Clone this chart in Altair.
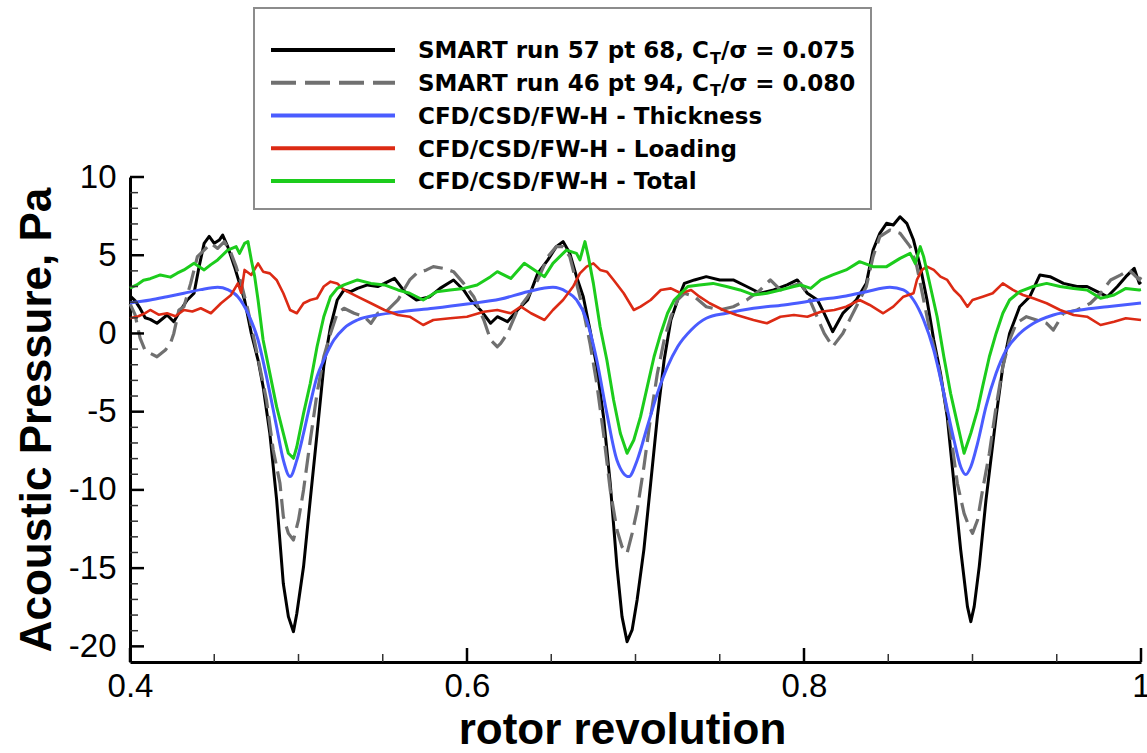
import altair as alt
import pandas as pd

# ---------------------------------------------------------------------------
# Acoustic pressure time histories over part of one rotor revolution
# (rotor revolution, acoustic pressure in Pa)
# ---------------------------------------------------------------------------

SMART_RUN57 = [
    (0.400, 2.4), (0.403, 2.1), (0.406, 1.6), (0.409, 1.0), (0.412, 0.9), (0.416, 0.65),
    (0.422, 1.18), (0.426, 0.75), (0.430, 1.5), (0.434, 2.14), (0.438, 2.57), (0.441, 4.27),
    (0.444, 5.76), (0.447, 6.2), (0.450, 5.76), (0.453, 5.97), (0.455, 6.29), (0.458, 5.55),
    (0.462, 4.27), (0.465, 3.2), (0.468, 2.14), (0.472, 0.0), (0.476, -1.7), (0.479, -3.4),
    (0.483, -6.4), (0.487, -10.6), (0.491, -16.0), (0.494, -18.1), (0.497, -19.06),
    (0.499, -17.9), (0.503, -14.9), (0.507, -10.6), (0.511, -6.4), (0.515, -2.1),
    (0.519, 0.43), (0.523, 2.14), (0.527, 2.78), (0.531, 2.67), (0.535, 2.88), (0.541, 3.1),
    (0.547, 3.0), (0.551, 3.2), (0.557, 3.52), (0.563, 2.67), (0.570, 2.14), (0.578, 2.35),
    (0.584, 2.88), (0.592, 3.42), (0.598, 2.78), (0.602, 2.14), (0.608, 1.5), (0.614, 0.65),
    (0.618, 1.07), (0.624, 0.75), (0.630, 1.5), (0.636, 2.14), (0.642, 3.84), (0.648, 4.7),
    (0.653, 5.55), (0.657, 5.87), (0.661, 5.12), (0.665, 3.63), (0.669, 2.35), (0.673, 0.22),
    (0.677, -2.12), (0.681, -5.32), (0.685, -9.58), (0.689, -14.9), (0.692, -18.1),
    (0.695, -19.7), (0.698, -18.95), (0.701, -17.0), (0.705, -13.8), (0.709, -9.58),
    (0.713, -5.32), (0.717, -1.7), (0.721, 0.86), (0.725, 2.14), (0.729, 3.2), (0.735, 3.42),
    (0.742, 3.63), (0.750, 3.42), (0.758, 3.42), (0.766, 3.0), (0.774, 2.57), (0.782, 2.78),
    (0.790, 3.1), (0.796, 3.42), (0.802, 2.57), (0.808, 2.14), (0.812, 1.28), (0.817, 0.11),
    (0.823, 1.28), (0.831, 2.14), (0.837, 3.2), (0.841, 5.33), (0.845, 6.4), (0.849, 7.04),
    (0.853, 6.93), (0.857, 7.46), (0.861, 7.04), (0.865, 5.97), (0.869, 4.27), (0.873, 2.14),
    (0.877, -0.42), (0.881, -2.55), (0.885, -5.32), (0.889, -9.58), (0.893, -13.84),
    (0.897, -17.46), (0.899, -18.42), (0.901, -17.46), (0.904, -14.9), (0.908, -10.65),
    (0.914, -5.32), (0.918, -2.12), (0.922, 0.0), (0.928, 1.71), (0.934, 2.35), (0.940, 3.74),
    (0.946, 3.63), (0.954, 3.2), (0.962, 3.0), (0.968, 3.0), (0.974, 2.67), (0.980, 2.35),
    (0.986, 3.0), (0.991, 3.63), (0.996, 4.16), (0.999, 3.2), (1.000, 3.3),
]

SMART_RUN46 = [
    (0.400, 1.9), (0.403, 1.2), (0.406, -0.3), (0.409, -1.1), (0.412, -1.27), (0.416, -1.49),
    (0.421, -1.06), (0.424, -0.63), (0.426, 0.0), (0.429, 1.5), (0.432, 1.71), (0.436, 3.2),
    (0.440, 4.91), (0.444, 5.33), (0.448, 5.76), (0.452, 5.44), (0.456, 5.87), (0.460, 5.12),
    (0.463, 4.27), (0.466, 3.2), (0.470, 1.5), (0.475, -1.06), (0.481, -4.25), (0.485, -7.45),
    (0.489, -9.58), (0.491, -11.71), (0.494, -12.78), (0.497, -13.2), (0.500, -11.92),
    (0.503, -10.0), (0.507, -6.81), (0.511, -3.83), (0.515, -1.49), (0.519, 0.0),
    (0.523, 1.29), (0.527, 1.61), (0.533, 1.29), (0.539, 1.07), (0.543, 0.65), (0.547, 1.29),
    (0.553, 1.5), (0.559, 2.14), (0.566, 3.42), (0.570, 3.84), (0.576, 4.06), (0.580, 4.27),
    (0.586, 4.16), (0.592, 3.95), (0.598, 3.2), (0.604, 2.35), (0.610, 0.86), (0.614, -0.42),
    (0.618, -0.85), (0.620, -0.63), (0.624, 0.0), (0.630, 1.5), (0.636, 2.35), (0.642, 3.42),
    (0.648, 4.91), (0.653, 5.55), (0.657, 5.55), (0.661, 4.91), (0.665, 3.2), (0.669, 1.5),
    (0.673, -0.63), (0.677, -3.19), (0.681, -6.38), (0.685, -10.0), (0.689, -12.56),
    (0.692, -13.63), (0.695, -14.05), (0.698, -12.78), (0.701, -11.28), (0.705, -8.52),
    (0.709, -5.32), (0.713, -2.55), (0.717, -0.42), (0.721, 1.07), (0.725, 2.14),
    (0.729, 2.57), (0.735, 2.35), (0.742, 1.71), (0.750, 1.5), (0.758, 1.71), (0.766, 2.14),
    (0.774, 2.78), (0.780, 3.42), (0.786, 2.78), (0.792, 3.0), (0.798, 3.2), (0.802, 2.5),
    (0.806, 1.5), (0.812, 0.0), (0.817, -0.85), (0.823, 0.0), (0.831, 1.71), (0.837, 3.0),
    (0.841, 4.91), (0.845, 6.19), (0.851, 6.61), (0.857, 6.4), (0.863, 5.55), (0.867, 4.27),
    (0.871, 2.14), (0.875, 0.0), (0.879, -1.7), (0.883, -3.83), (0.887, -6.38), (0.891, -9.58),
    (0.895, -11.5), (0.898, -12.35), (0.900, -12.78), (0.903, -11.92), (0.906, -10.0),
    (0.910, -7.66), (0.914, -4.68), (0.918, -2.12), (0.922, -0.42), (0.926, 0.65),
    (0.932, 1.07), (0.938, 0.86), (0.944, 0.65), (0.948, 0.22), (0.954, 1.29), (0.962, 1.5),
    (0.970, 1.93), (0.976, 2.57), (0.982, 3.42), (0.988, 3.74), (0.993, 4.06), (0.999, 3.42),
    (1.000, 3.6),
]

FWH_THICKNESS = [
    (0.400, 1.95), (0.412, 2.14), (0.422, 2.35), (0.432, 2.57), (0.442, 2.8), (0.452, 2.95),
    (0.458, 2.8), (0.464, 2.35), (0.470, 1.29), (0.476, -0.42), (0.481, -2.76),
    (0.487, -5.96), (0.491, -8.1), (0.495, -9.15), (0.499, -8.1), (0.503, -6.38),
    (0.507, -4.47), (0.511, -2.76), (0.515, -1.7), (0.521, -0.42), (0.527, 0.33),
    (0.535, 0.86), (0.547, 1.18), (0.561, 1.39), (0.580, 1.61), (0.600, 1.88), (0.620, 2.2),
    (0.636, 2.67), (0.651, 2.95), (0.659, 2.67), (0.665, 2.14), (0.671, 0.86), (0.677, -1.7),
    (0.683, -5.11), (0.689, -8.1), (0.696, -9.15), (0.701, -8.1), (0.707, -5.96),
    (0.713, -3.83), (0.719, -2.12), (0.725, -0.85), (0.733, 0.22), (0.742, 0.97),
    (0.754, 1.29), (0.770, 1.61), (0.788, 1.82), (0.808, 2.14), (0.825, 2.4), (0.837, 2.67),
    (0.851, 2.95), (0.859, 2.78), (0.865, 2.14), (0.871, 0.86), (0.877, -1.06),
    (0.883, -3.83), (0.889, -6.81), (0.893, -8.52), (0.896, -9.02), (0.899, -8.52),
    (0.903, -7.02), (0.908, -4.68), (0.914, -2.55), (0.920, -1.06), (0.928, 0.0),
    (0.936, 0.64), (0.948, 1.18), (0.964, 1.5), (0.980, 1.71), (1.000, 1.95),
]

FWH_LOADING = [
    (0.400, 0.97), (0.405, 1.1), (0.409, 1.3), (0.412, 1.5), (0.417, 1.2), (0.422, 1.29),
    (0.427, 1.1), (0.432, 1.5), (0.437, 1.4), (0.442, 1.61), (0.448, 1.29), (0.454, 1.93),
    (0.460, 2.46), (0.464, 3.2), (0.466, 2.6), (0.468, 4.06), (0.472, 3.74), (0.476, 4.48),
    (0.479, 3.95), (0.483, 3.84), (0.487, 3.42), (0.491, 2.57), (0.495, 1.5), (0.499, 1.29),
    (0.503, 1.93), (0.507, 2.14), (0.511, 2.25), (0.515, 3.0), (0.519, 3.31), (0.523, 3.2),
    (0.527, 2.78), (0.535, 2.35), (0.543, 1.93), (0.551, 1.5), (0.559, 1.18), (0.566, 1.07),
    (0.574, 0.54), (0.580, 0.86), (0.590, 0.97), (0.600, 1.07), (0.610, 1.39), (0.618, 1.5),
    (0.626, 1.29), (0.632, 1.71), (0.638, 1.29), (0.646, 0.86), (0.651, 1.5), (0.657, 2.14),
    (0.663, 3.0), (0.667, 3.84), (0.671, 4.27), (0.675, 4.48), (0.679, 4.06), (0.683, 3.95),
    (0.687, 3.42), (0.693, 2.57), (0.699, 1.5), (0.703, 1.71), (0.709, 2.14), (0.715, 2.78),
    (0.721, 2.88), (0.727, 2.57), (0.733, 2.78), (0.738, 2.35), (0.744, 1.93), (0.752, 1.5),
    (0.760, 1.18), (0.770, 0.86), (0.778, 0.65), (0.786, 1.07), (0.794, 1.18), (0.802, 1.07),
    (0.810, 1.39), (0.818, 1.5), (0.825, 1.71), (0.833, 2.14), (0.839, 1.82), (0.847, 1.29),
    (0.853, 1.71), (0.859, 2.35), (0.865, 2.57), (0.867, 3.42), (0.870, 4.06), (0.873, 4.27),
    (0.877, 4.06), (0.881, 3.63), (0.885, 3.42), (0.889, 2.78), (0.893, 2.35), (0.897, 1.71),
    (0.900, 2.14), (0.906, 2.35), (0.912, 2.57), (0.918, 3.2), (0.924, 2.78), (0.930, 2.46),
    (0.936, 2.25), (0.944, 1.93), (0.952, 1.5), (0.960, 1.18), (0.968, 1.07), (0.976, 0.54),
    (0.984, 0.75), (0.991, 0.97), (1.000, 0.86),
]

FWH_TOTAL = [
    (0.400, 2.9), (0.404, 3.1), (0.408, 3.4), (0.412, 3.5), (0.418, 3.74), (0.424, 3.6),
    (0.428, 3.85), (0.432, 4.06), (0.438, 4.48), (0.444, 4.06), (0.448, 4.4), (0.452, 4.7),
    (0.458, 5.33), (0.463, 5.55), (0.465, 5.12), (0.468, 5.76), (0.470, 5.87), (0.472, 4.7),
    (0.474, 3.63), (0.476, 2.14), (0.479, -0.42), (0.483, -2.55), (0.487, -4.68),
    (0.491, -6.38), (0.494, -7.66), (0.497, -7.98), (0.499, -7.24), (0.503, -5.11),
    (0.507, -3.19), (0.511, -0.85), (0.515, 1.07), (0.519, 2.35), (0.523, 2.88), (0.527, 3.1),
    (0.535, 3.42), (0.543, 3.2), (0.551, 3.1), (0.559, 2.78), (0.566, 2.57), (0.574, 2.14),
    (0.582, 2.67), (0.590, 2.78), (0.598, 2.88), (0.606, 3.1), (0.614, 3.63), (0.618, 3.95),
    (0.620, 3.84), (0.626, 3.52), (0.634, 4.48), (0.640, 4.06), (0.646, 3.63), (0.651, 4.48),
    (0.659, 5.33), (0.665, 5.12), (0.667, 4.7), (0.670, 5.87), (0.672, 4.91), (0.675, 3.2),
    (0.679, 0.43), (0.683, -1.7), (0.687, -4.25), (0.691, -6.38), (0.695, -7.66),
    (0.699, -6.81), (0.703, -5.32), (0.707, -3.4), (0.711, -1.49), (0.715, 0.0), (0.719, 1.29),
    (0.723, 2.14), (0.727, 2.57), (0.731, 3.0), (0.738, 3.1), (0.746, 3.2), (0.754, 3.0),
    (0.762, 2.78), (0.770, 2.46), (0.778, 2.57), (0.786, 2.78), (0.794, 3.0), (0.798, 3.1),
    (0.804, 2.88), (0.810, 3.42), (0.817, 3.74), (0.825, 4.06), (0.833, 4.59), (0.841, 4.27),
    (0.849, 4.27), (0.857, 4.8), (0.863, 5.12), (0.866, 4.48), (0.869, 5.55), (0.871, 4.91),
    (0.875, 3.0), (0.879, 1.07), (0.883, -1.49), (0.887, -3.83), (0.891, -5.75),
    (0.895, -7.66), (0.899, -6.38), (0.903, -4.89), (0.906, -3.4), (0.910, -1.49),
    (0.914, 0.0), (0.918, 1.29), (0.922, 2.14), (0.928, 2.67), (0.936, 3.0), (0.944, 3.2),
    (0.952, 3.0), (0.960, 2.88), (0.968, 2.78), (0.976, 2.25), (0.984, 2.46), (0.991, 2.88),
    (0.999, 2.78), (1.000, 2.8),
]

# Axis ticks
X_MAJOR = [0.4, 0.6, 0.8, 1.0]
X_MINOR = [0.45, 0.5, 0.55, 0.65, 0.7, 0.75, 0.85, 0.9, 0.95]
Y_MAJOR = [-20, -15, -10, -5, 0, 5, 10]
Y_MINOR = [v for v in range(-19, 10) if v % 5 != 0]

# Legend entries: (text, subscript, text after subscript)
LEGEND_TEXT = [
    ("SMART run 57 pt 68, C", "T", "/\u03c3 = 0.075"),
    ("SMART run 46 pt 94, C", "T", "/\u03c3 = 0.080"),
    ("CFD/CSD/FW-H - Thickness", "", ""),
    ("CFD/CSD/FW-H - Loading", "", ""),
    ("CFD/CSD/FW-H - Total", "", ""),
]

# Series styling: data, colour, width, dash, interpolation
SERIES = [
    (SMART_RUN57, "#000000", 3.0, None, "linear"),
    (SMART_RUN46, "#707070", 3.2, [20, 8], "linear"),
    (FWH_THICKNESS, "#4a5cff", 3.0, None, "monotone"),
    (FWH_LOADING, "#dc2a14", 2.6, None, "linear"),
    (FWH_TOTAL, "#1ccc1c", 3.0, None, "linear"),
]
LEGEND_DASH = [None, [25, 9], None, None, None]

W, H = 1011, 485
AXIS_FONT = "Liberation Sans"
LEGEND_FONT = "DejaVu Sans"

XS = alt.Scale(domain=[0.4, 1.0], nice=False, zero=False)
YS = alt.Scale(domain=[-21, 10], nice=False, zero=False)

X_AXIS = alt.Axis(
    values=X_MAJOR,
    labelExpr="datum.value == 1 ? '1' : format(datum.value, '.1f')",
    ticks=False, tickSize=0, grid=False,
    domainColor="black", domainWidth=3,
    labelFont=AXIS_FONT, labelFontSize=33, labelColor="black", labelPadding=8,
    labelFlush=False, labelOverlap=False,
    title="rotor revolution", titleFont=AXIS_FONT, titleFontSize=44, titleFontWeight="bold",
    titleColor="black", titleBaseline="alphabetic", titleX=492, titleY=81,
)
Y_AXIS = alt.Axis(
    values=Y_MAJOR,
    labelExpr="'' + datum.value",
    ticks=False, tickSize=0, grid=False,
    domainColor="black", domainWidth=3,
    labelFont=AXIS_FONT, labelFontSize=33, labelColor="black", labelPadding=14,
    labelFlush=False, labelOverlap=False,
    title="Acoustic Pressure, Pa", titleFont=AXIS_FONT, titleFontSize=44,
    titleFontWeight="bold", titleColor="black", titleBaseline="alphabetic",
    titleAngle=270, titleX=-80, titleY=H / 2,
)


def x_enc(field):
    return alt.X(field, type="quantitative", scale=XS, axis=X_AXIS)


def y_enc(field):
    return alt.Y(field, type="quantitative", scale=YS, axis=Y_AXIS)


layers = []

# Data curves
for pts, color, width, dash, interp in SERIES:
    df = pd.DataFrame(pts, columns=["rev", "pa"])
    props = dict(color=color, strokeWidth=width, interpolate=interp, strokeJoin="round")
    if dash:
        props["strokeDash"] = dash
    layers.append(
        alt.Chart(df).mark_line(**props).encode(x=x_enc("rev"), y=y_enc("pa"))
    )

# Inward-pointing tick marks
layers.append(
    alt.Chart(pd.DataFrame({"v": X_MAJOR})).mark_rule(color="black", strokeWidth=2.5)
    .encode(x=x_enc("v"), y=alt.value(H), y2=alt.value(H - 14))
)
layers.append(
    alt.Chart(pd.DataFrame({"v": X_MINOR})).mark_rule(color="#333333", strokeWidth=1.5)
    .encode(x=x_enc("v"), y=alt.value(H), y2=alt.value(H - 8))
)
layers.append(
    alt.Chart(pd.DataFrame({"v": Y_MAJOR})).mark_rule(color="black", strokeWidth=2.5)
    .encode(y=y_enc("v"), x=alt.value(0), x2=alt.value(14))
)
layers.append(
    alt.Chart(pd.DataFrame({"v": Y_MINOR})).mark_rule(color="#333333", strokeWidth=1.5)
    .encode(y=y_enc("v"), x=alt.value(0), x2=alt.value(8))
)

# Legend box
one = pd.DataFrame({"k": [0]})
layers.append(
    alt.Chart(one).mark_rect(fill="white", stroke="#8c8c8c", strokeWidth=2)
    .encode(x=alt.value(124), x2=alt.value(741), y=alt.value(-169), y2=alt.value(32))
)

ROW0, ROW_STEP = -127, 32.75
TEXT_X = 288
for i, ((main, sub, tail), (_, color, _, _, _), ldash) in enumerate(
        zip(LEGEND_TEXT, SERIES, LEGEND_DASH)):
    ry = ROW0 + i * ROW_STEP
    rprops = dict(color=color, strokeWidth=4)
    if ldash:
        rprops["strokeDash"] = ldash
    layers.append(
        alt.Chart(one).mark_rule(**rprops)
        .encode(x=alt.value(141), x2=alt.value(265), y=alt.value(ry))
    )
    txt = dict(font=LEGEND_FONT, fontWeight="bold", color="black", align="left",
               baseline="alphabetic")
    layers.append(
        alt.Chart(pd.DataFrame({"t": [main]})).mark_text(fontSize=23, **txt)
        .encode(x=alt.value(TEXT_X), y=alt.value(ry + 8.4), text="t:N")
    )
    if sub:
        layers.append(
            alt.Chart(pd.DataFrame({"t": [sub]})).mark_text(fontSize=16, **txt)
            .encode(x=alt.value(TEXT_X + 292), y=alt.value(ry + 13.5), text="t:N")
        )
        layers.append(
            alt.Chart(pd.DataFrame({"t": [tail]})).mark_text(fontSize=23, **txt)
            .encode(x=alt.value(TEXT_X + 303), y=alt.value(ry + 8.4), text="t:N")
        )

chart = (
    alt.layer(*layers)
    .properties(
        width=W, height=H,
        padding={"left": 130, "top": 177, "right": 6, "bottom": 91},
        autosize=alt.AutoSizeParams(type="none"),
        background="white",
    )
    .configure_view(stroke=None)
)

chart.save("out.html", embed_options={"renderer": "svg", "actions": False})
